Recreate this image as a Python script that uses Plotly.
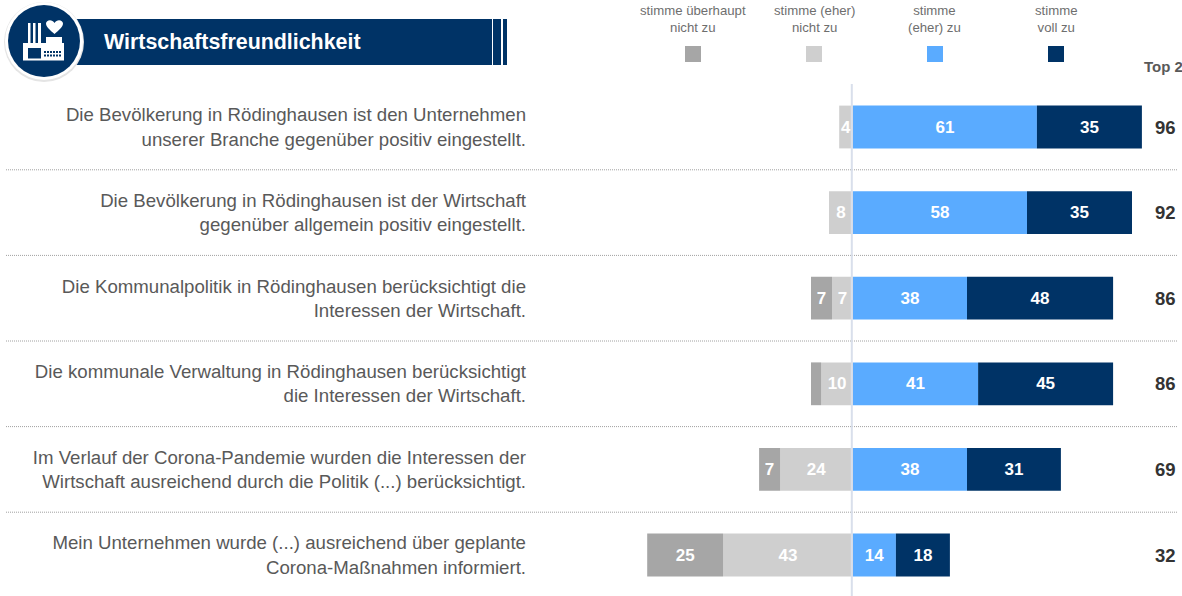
import plotly.graph_objects as go

W, H = 1182, 596

# ---- data ----
statements = [
    "Die Bevölkerung in Rödinghausen ist den Unternehmen<br>unserer Branche gegenüber positiv eingestellt.",
    "Die Bevölkerung in Rödinghausen ist der Wirtschaft<br>gegenüber allgemein positiv eingestellt.",
    "Die Kommunalpolitik in Rödinghausen berücksichtigt die<br>Interessen der Wirtschaft.",
    "Die kommunale Verwaltung in Rödinghausen berücksichtigt<br>die Interessen der Wirtschaft.",
    "Im Verlauf der Corona-Pandemie wurden die Interessen der<br>Wirtschaft ausreichend durch die Politik (...) berücksichtigt.",
    "Mein Unternehmen wurde (...) ausreichend über geplante<br>Corona-Maßnahmen informiert.",
]
row_ids = [0, 1, 2, 3, 4, 5]
not_at_all = [0, 0, 7, 3.4, 7, 25.3]
rather_not = [4.6, 8, 7, 10.6, 24.3, 43.3]
rather = [61.3, 58, 38, 41.7, 38, 14.3]
fully = [35, 35, 48.7, 45, 31.3, 18]
not_at_all_labels = ["", "", "7", "", "7", "25"]
rather_not_labels = ["4", "8", "7", "10", "24", "43"]
rather_labels = ["61", "58", "38", "41", "38", "14"]
fully_labels = ["35", "35", "48", "45", "31", "18"]
top2 = [96, 92, 86, 86, 69, 32]
legend_names = ["stimme überhaupt<br>nicht zu", "stimme (eher)<br>nicht zu", "stimme<br>(eher) zu", "stimme<br>voll zu"]
colors = ["#A6A6A6", "#CFCFCF", "#5AABFF", "#003366"]
title = "Wirtschaftsfreundlichkeit"

NAVY = "#003366"


def px(x):
    return x / W


def py(y):
    return 1 - y / H


fig = go.Figure()
series = [
    (rather_not, rather_not_labels, colors[1], -1),
    (not_at_all, not_at_all_labels, colors[0], -1),
    (rather, rather_labels, colors[2], 1),
    (fully, fully_labels, colors[3], 1),
]
for vals, labels, col, sign in series:
    fig.add_trace(go.Bar(
        y=row_ids, x=[sign * v for v in vals], orientation="h", width=0.5,
        marker=dict(color=col, line=dict(width=0)),
        text=[f"<b>{t}</b>" if t else "" for t in labels],
        textposition="inside", insidetextanchor="middle", textangle=0,
        insidetextfont=dict(color="white", size=17, family="Liberation Sans"),
        showlegend=False, hoverinfo="skip",
    ))

shapes = []


def rect(x0, y0, x1, y1, color, layer="above"):
    shapes.append(dict(type="rect", xref="paper", yref="paper", x0=px(x0), x1=px(x1), y0=py(y0), y1=py(y1),
                       fillcolor=color, line=dict(width=0), layer=layer))


# separators between rows
for r in row_ids[:-1]:
    shapes.append(dict(type="line", xref="paper", yref="y", x0=px(6), x1=px(1178), y0=r + 0.5, y1=r + 0.5,
                       line=dict(color="#A0A0A0", width=1, dash="1px,1px"), layer="below"))
# zero line
shapes.append(dict(type="line", xref="x", yref="paper", x0=-0.4, x1=-0.4, y0=py(84), y1=0,
                   line=dict(color="#D9DFEB", width=2), layer="above"))

# header band
rect(50, 19, 492, 65, NAVY)
rect(493, 19, 501, 65, NAVY)
rect(503, 19, 507, 65, NAVY)
# medallion
for r, col, dy in [(40, "#E4E4E4", 1), (39, "white", 0), (36, NAVY, 0)]:
    shapes.append(dict(type="circle", xref="paper", yref="paper", x0=px(44 - r), x1=px(44 + r),
                       y0=py(41 + r + dy), y1=py(41 - r + dy),
                       fillcolor=col, line=dict(width=0), layer="above"))
# factory icon
rect(28, 23, 30.5, 43, "white")
rect(33, 23, 35.5, 43, "white")
rect(38, 23, 41, 43, "white")
rect(46, 37, 62, 43, "white")
rect(23, 43, 64, 60.5, "white")
rect(28, 48, 41, 58.5, NAVY)
for cx in range(44, 62, 3):
    rect(cx, 51, cx + 2, 53, NAVY)
    rect(cx, 54.5, cx + 2, 56.5, NAVY)


def P(x, y):
    return f"{px(x):.5f},{py(y):.5f}"


heart = (f"M {P(54.5, 34)} C {P(50, 30)} {P(46, 27)} {P(46, 23.5)} "
         f"C {P(46, 20)} {P(52, 18.5)} {P(54.5, 23)} "
         f"C {P(57, 18.5)} {P(63, 20)} {P(63, 23.5)} "
         f"C {P(63, 27)} {P(59, 30)} {P(54.5, 34)} Z")
shapes.append(dict(type="path", xref="paper", yref="paper", path=heart, fillcolor="white",
                   line=dict(width=0), layer="above"))

# legend swatches
legend_x = [693, 814, 935, 1056]
for lx, col in zip(legend_x, colors):
    rect(lx - 8, 46, lx + 8, 62, col)

annotations = []


def note(x, y, text, size, color, bold=False, anchor="center"):
    annotations.append(dict(
        xref="paper", yref="paper", x=px(x), y=py(y), text=f"<b>{text}</b>" if bold else text,
        showarrow=False, xanchor=anchor, yanchor="middle", align="center",
        font=dict(family="Liberation Sans", size=size, color=color),
    ))


note(102, 42, title, 21.4, "white", bold=True, anchor="left")
for lx, name in zip(legend_x, legend_names):
    note(lx, 18.5, name, 13.2, "#6E6E6E")
note(1142, 66, "Top 2", 15, "#595959", bold=True, anchor="left")
for r, t in zip(row_ids, top2):
    annotations.append(dict(
        xref="paper", yref="y", x=px(1165), y=r, text=f"<b>{t}</b>", showarrow=False,
        xanchor="center", yanchor="middle",
        font=dict(family="Liberation Sans", size=18.5, color="#333333"),
    ))

# axis geometry: 3 px per unit, zero at x=853; rows 85.6 px apart, first at y=127
dom_left = 527
row_h = 85.6
fig.update_layout(
    width=W, height=H, margin=dict(l=0, r=0, t=0, b=0), autosize=False,
    paper_bgcolor="white", plot_bgcolor="white", barmode="relative",
    uniformtext=dict(minsize=17, mode="show"),
    font=dict(family="Liberation Sans"),
    xaxis=dict(domain=[dom_left / W, 1], range=[(dom_left - 853) / 3, (W - 853) / 3],
               visible=False, fixedrange=True),
    yaxis=dict(range=[(H - 127) / row_h, -127 / row_h], tickmode="array", tickvals=row_ids, ticktext=statements,
               showgrid=False, zeroline=False, showline=False, ticks="", ticklabelposition="outside",
               tickfont=dict(family="Liberation Sans", size=18.65, color="#595959"), fixedrange=True,
               automargin=False, anchor="x"),
    shapes=shapes, annotations=annotations,
)

fig.write_html("out.html", config={"displayModeBar": False},
               post_script="document.body.style.margin='0';document.body.style.overflow='hidden';")
